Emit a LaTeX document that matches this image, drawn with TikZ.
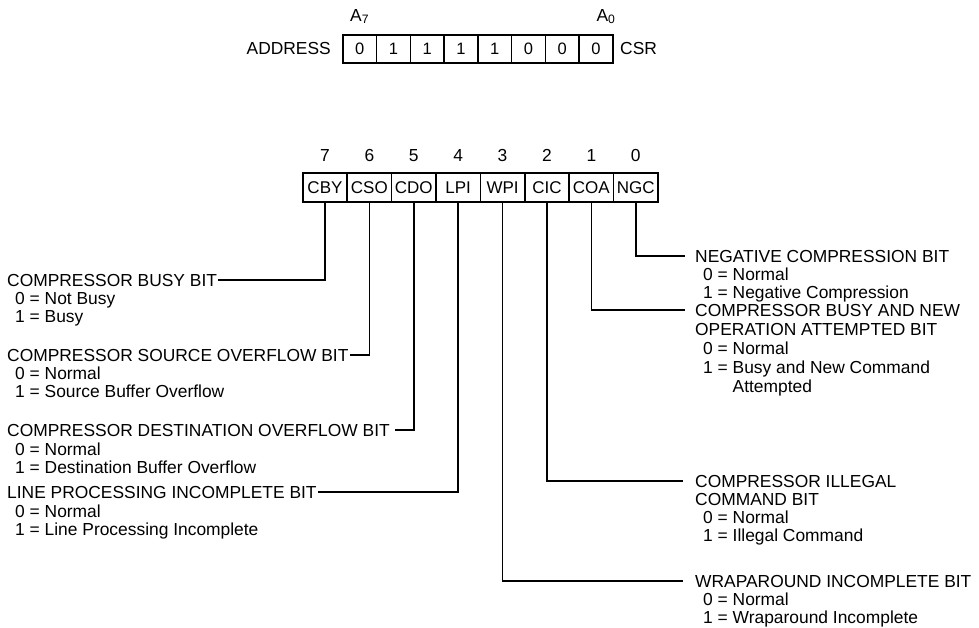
\documentclass[tikz,border=0pt]{standalone}
\usepackage{fontspec}
\setmainfont{Liberation Sans}
\begin{document}
\begin{tikzpicture}[x=1pt,y=-1pt,
  txt/.style={inner sep=0pt, font=\fontsize{17.4}{19}\selectfont},
  lbl/.style={txt, anchor=base west},
  acell/.style={draw, line width=1.5pt, anchor=north west, inner sep=0pt,
    minimum width=33.75pt, minimum height=28pt, font=\fontsize{16.5}{18.5}\selectfont},
  rcell/.style={draw, line width=1.5pt, anchor=north west, inner sep=0pt,
    minimum width=44.4pt, minimum height=29pt, font=\fontsize{17}{19}\selectfont},
  conn/.style={line width=1.6pt}]
\useasboundingbox (0,0) rectangle (979,627);

% address register
\node[lbl, anchor=base east] (addr) at (331,54) {ADDRESS};
\foreach \v [count=\i from 0] in {0,1,1,1,1,0,0,0}
  \node[acell] (a\i) at (342+\i*33.75,34) {\v};
\node[lbl] (csr) at (620,54) {CSR};
\node[txt, anchor=base] (a7) at (a0.center |- 0,21) {A\textsubscript{7}};
\node[txt, anchor=base] (azero) at (a7.base -| 606,0) {A\textsubscript{0}};

% CSR bit fields
\foreach \t [count=\i from 0] in {CBY,CSO,CDO,LPI,WPI,CIC,COA,NGC} {
  \node[rcell] (r\i) at (302+\i*44.4,172) {\t};
  \pgfmathtruncatemacro{\b}{7-\i}
  \node[txt, anchor=base] (n\i) at (r\i.center |- 0,161) {\b};
}

% left-hand descriptions
\node[lbl] (cbyh) at (7,286) {COMPRESSOR BUSY BIT};
\node[lbl] (cby0) at (15,304) {0 = Not Busy};
\node[lbl] (cby1) at (15,322) {1 = Busy};

\node[lbl] (csoh) at (7,361) {COMPRESSOR SOURCE OVERFLOW BIT};
\node[lbl] (cso0) at (15,379) {0 = Normal};
\node[lbl] (cso1) at (15,397) {1 = Source Buffer Overflow};

\node[lbl] (cdoh) at (7,436) {COMPRESSOR DESTINATION OVERFLOW BIT};
\node[lbl] (cdo0) at (15,455) {0 = Normal};
\node[lbl] (cdo1) at (15,473) {1 = Destination Buffer Overflow};

\node[lbl] (lpih) at (7,498) {LINE PROCESSING INCOMPLETE BIT};
\node[lbl] (lpi0) at (15,517) {0 = Normal};
\node[lbl] (lpi1) at (15,535) {1 = Line Processing Incomplete};

% right-hand descriptions
\node[lbl] (ngch) at (695,262) {NEGATIVE COMPRESSION BIT};
\node[lbl] (ngc0) at (703,280) {0 = Normal};
\node[lbl] (ngc1) at (703,298) {1 = Negative Compression};

\node[lbl] (coah) at (695,316) {COMPRESSOR BUSY AND NEW};
\node[lbl] (coah2) at (695,335) {OPERATION ATTEMPTED BIT};
\node[lbl] (coa0) at (703,354) {0 = Normal};
\node[lbl] (coa1) at (703,373) {1 = Busy and New Command};
\node[lbl] (coa2) at (703,392) {\phantom{1 = }Attempted};

\node[lbl] (cich) at (695,487) {COMPRESSOR ILLEGAL};
\node[lbl] (cich2) at (695,505) {COMMAND BIT};
\node[lbl] (cic0) at (703,523) {0 = Normal};
\node[lbl] (cic1) at (703,541) {1 = Illegal Command};

\node[lbl] (wpih) at (695,587) {WRAPAROUND INCOMPLETE BIT};
\node[lbl] (wpi0) at (703,605) {0 = Normal};
\node[lbl] (wpi1) at (703,623) {1 = Wraparound Incomplete};

% connectors from each bit down to its description
\draw[conn] (r0.south) |- ([xshift=1pt]cbyh.east);
\draw[conn] (r1.south) |- ([xshift=1pt]csoh.east);
\draw[conn] (r2.south) |- ([xshift=5pt]cdoh.east);
\draw[conn] (r3.south) |- ([xshift=1pt]lpih.east);
\draw[conn] (r4.south) |- ([xshift=-12pt]wpih.west);
\draw[conn] (r5.south) |- ([xshift=-12pt]cich.west);
\draw[conn] (r6.south) |- ([xshift=-10pt]coah.west);
\draw[conn] (r7.south) |- ([xshift=-10pt]ngch.west);
\end{tikzpicture}
\end{document}
